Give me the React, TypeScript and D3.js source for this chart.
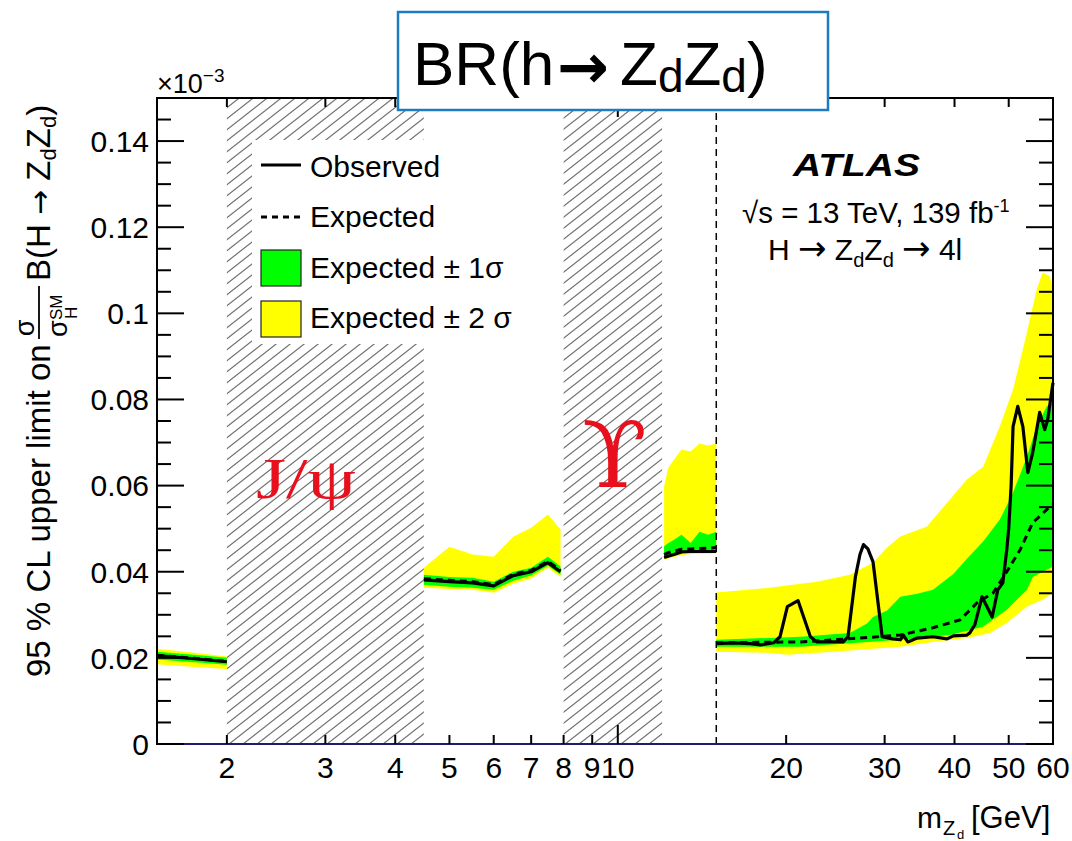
import React from "react";
import * as d3 from "d3";

// ---------------- data ----------------
// segment A : 1.5 - 2 GeV
const massA = [1.5, 1.75, 2.0];
const obsA = [0.0205, 0.0198, 0.0191];
const expA = [0.0206, 0.0199, 0.0192];
const g1HiA = [0.0214, 0.0207, 0.02];
const g1LoA = [0.0196, 0.019, 0.0184];
const g2HiA = [0.0221, 0.0212, 0.0203];
const g2LoA = [0.0185, 0.0179, 0.0174];

// segment B : 4.5 - 7.9 GeV
const massB = [4.5, 5.0, 5.5, 6.0, 6.5, 7.0, 7.5, 7.9];
const obsB = [0.0381, 0.0377, 0.0374, 0.0367, 0.0391, 0.04, 0.0421, 0.04];
const expB = [0.0384, 0.038, 0.0377, 0.037, 0.0394, 0.0403, 0.0424, 0.0403];
const g1HiB = [0.0393, 0.0388, 0.0386, 0.0377, 0.04, 0.0409, 0.0435, 0.0412];
const g1LoB = [0.037, 0.0365, 0.0363, 0.0358, 0.0379, 0.0391, 0.0414, 0.0393];
const g2HiB = [0.0409, 0.0458, 0.044, 0.0435, 0.0481, 0.0502, 0.0533, 0.0498];
const g2LoB = [0.0363, 0.036, 0.0358, 0.0351, 0.0372, 0.0384, 0.0409, 0.0388];

// segment C : 12 - 15 GeV
const massC = [12.1, 12.3, 12.6, 13.0, 13.5, 14.0, 14.5, 15.0];
const obsC = [0.0433, 0.0436, 0.044, 0.0446, 0.0447, 0.0447, 0.0447, 0.0447];
const expC = [0.044, 0.0444, 0.0448, 0.0452, 0.0453, 0.0454, 0.0455, 0.0456];
const g1HiC = [0.0459, 0.0466, 0.0474, 0.0486, 0.0467, 0.0493, 0.0486, 0.0493];
const g1LoC = [0.0432, 0.0435, 0.0438, 0.0443, 0.0445, 0.0446, 0.0446, 0.0447];
const g2HiC = [0.0598, 0.064, 0.066, 0.0684, 0.0679, 0.0698, 0.0693, 0.0698];
const g2LoC = [0.0428, 0.0431, 0.0434, 0.0439, 0.0441, 0.0442, 0.0442, 0.0443];

// segment D : 15 - 60 GeV
const massObsD = [15.0, 16.1, 17.25, 18.0, 19.0, 19.5, 20.1, 21.0, 22.1, 22.7, 24.3, 25.3, 25.8, 26.6, 27.1, 27.5, 28.0, 28.6, 29.7, 31.0, 32.0, 32.4, 33.0, 34.3, 36.6, 38.8, 39.8, 42.1, 42.6, 43.5, 44.8, 46.7, 47.8, 48.8, 49.6, 50.0, 50.5, 50.9, 51.9, 53.0, 54.1, 55.2, 56.8, 58.0, 58.7, 60.0];
const obsD = [0.0233, 0.0235, 0.0233, 0.023, 0.0235, 0.0249, 0.0319, 0.0333, 0.0249, 0.0237, 0.0237, 0.0237, 0.0249, 0.0388, 0.044, 0.0463, 0.0453, 0.0423, 0.0249, 0.0244, 0.0242, 0.0253, 0.0237, 0.0246, 0.0249, 0.0244, 0.0251, 0.0253, 0.0258, 0.0277, 0.0342, 0.0295, 0.0358, 0.0374, 0.0451, 0.05, 0.06, 0.0737, 0.0784, 0.0737, 0.063, 0.0677, 0.077, 0.073, 0.0753, 0.0839];
const massExpD = [15.0, 21.2, 27.1, 32.0, 36.6, 40.9, 43.9, 46.9, 49.6, 52.4, 55.2, 59.2, 60.0];
const expD = [0.0235, 0.0237, 0.0246, 0.0253, 0.027, 0.0288, 0.0328, 0.0351, 0.04, 0.0451, 0.0514, 0.0551, 0.0556];
const massG1HiD = [15.0, 21.2, 26.0, 27.9, 28.6, 30.3, 32.0, 34.3, 36.6, 39.8, 42.1, 45.0, 48.2, 50.9, 53.9, 56.1, 58.5, 60.0];
const g1HiD = [0.0242, 0.0249, 0.0258, 0.028, 0.0295, 0.031, 0.0342, 0.0349, 0.0358, 0.0395, 0.043, 0.047, 0.0521, 0.0584, 0.0667, 0.0737, 0.0784, 0.0793];
const massG1LoD = [15.0, 21.2, 32.0, 39.3, 45.0, 49.6, 53.9, 55.2, 60.0];
const g1LoD = [0.0226, 0.0226, 0.0242, 0.0253, 0.0272, 0.0312, 0.0358, 0.0388, 0.0412];
const massG2HiD = [15.0, 18.5, 22.7, 26.0, 28.6, 30.3, 32.0, 35.7, 38.8, 42.1, 45.0, 48.2, 50.9, 53.9, 56.1, 57.5, 59.2, 60.0];
const g2HiD = [0.0352, 0.0362, 0.0377, 0.0393, 0.0421, 0.0456, 0.0482, 0.0505, 0.056, 0.0614, 0.0644, 0.0737, 0.0823, 0.0956, 0.1056, 0.1095, 0.1086, 0.1056];
const massG2LoD = [15.0, 18.5, 20.1, 24.3, 32.0, 36.6, 42.1, 46.3, 49.6, 53.9, 57.5, 60.0];
const g2LoD = [0.0214, 0.0212, 0.0207, 0.0214, 0.0226, 0.0237, 0.0246, 0.0258, 0.0281, 0.0319, 0.0335, 0.0351];

// vetoed regions and boundary
const vetoLo = [2.0, 8.0];
const vetoHi = [4.5, 12.0];
const boundaryMass = 15.0;

// axes
const xTickValues = [2, 3, 4, 5, 6, 7, 8, 9, 10, 20, 30, 40, 50, 60];
const xMajorTicks = [10];
const yTickValues = [0, 0.02, 0.04, 0.06, 0.08, 0.1, 0.12, 0.14];
const yMinorTicks = d3.range(0, 31).map((i) => i * 0.005);

const legendLabels = ["Observed", "Expected", "Expected ± 1σ", "Expected ± 2 σ"];

const FONT = "'Liberation Sans', Arial, Helvetica, sans-serif";
const ARROW_FONT = "'DejaVu Sans', sans-serif";
const GREEN = "#00ff00";
const YELLOW = "#ffff00";

export default function App() {
  const x = d3.scaleLog().domain([1.5, 60]).range([157, 1053]);
  const y = d3.scaleLinear().domain([0, 0.15]).range([744, 98]);
  const [x0, x1] = x.range();
  const [yb, yt] = y.range();

  const line = d3
    .line<[number, number]>()
    .x((d) => x(d[0]))
    .y((d) => y(d[1]));
  const pts = (m: number[], v: number[]) =>
    m.map((mm, i) => [mm, v[i]] as [number, number]);
  const band = (mh: number[], vh: number[], ml: number[], vl: number[]) =>
    line([...pts(mh, vh), ...pts(ml, vl).reverse()]) + "Z";

  const segments = [
    { g2: band(massA, g2HiA, massA, g2LoA), g1: band(massA, g1HiA, massA, g1LoA), exp: line(pts(massA, expA)), obs: line(pts(massA, obsA)) },
    { g2: band(massB, g2HiB, massB, g2LoB), g1: band(massB, g1HiB, massB, g1LoB), exp: line(pts(massB, expB)), obs: line(pts(massB, obsB)) },
    { g2: band(massC, g2HiC, massC, g2LoC), g1: band(massC, g1HiC, massC, g1LoC), exp: line(pts(massC, expC)), obs: line(pts(massC, obsC)) },
    { g2: band(massG2HiD, g2HiD, massG2LoD, g2LoD), g1: band(massG1HiD, g1HiD, massG1LoD, g1LoD), exp: line(pts(massExpD, expD)), obs: line(pts(massObsD, obsD)) },
  ];

  const fmtY = (v: number) => String(+v.toFixed(2));

  return (
    <svg
      width={1072}
      height={841}
      style={{ position: "absolute", left: 0, top: 0, background: "#fff" }}
      fontFamily={FONT}
    >
      <defs>
        <pattern id="hatch" patternUnits="userSpaceOnUse" width={14} height={11}>
          <path d="M0,11 L14,0 M-2,1.57 L2,-1.57 M12,12.57 L16,9.43" stroke="#707070" strokeWidth={1.2} />
        </pattern>
      </defs>
      <rect x={0} y={0} width={1072} height={841} fill="#fff" />

      {/* vetoed regions */}
      {vetoLo.map((lo, i) => (
        <rect key={"veto" + i} x={x(lo)} y={yt} width={x(vetoHi[i]) - x(lo)} height={yb - yt} fill="url(#hatch)" />
      ))}

      {/* legend background */}
      <rect x={252} y={140} width={250} height={204} fill="#fff" />

      {/* bands and lines */}
      {segments.map((s, i) => (
        <g key={"seg" + i}>
          <path d={s.g2} fill={YELLOW} stroke="none" />
          <path d={s.g1} fill={GREEN} stroke="none" />
          <path d={s.exp!} fill="none" stroke="#000" strokeWidth={3} strokeDasharray="7,5" />
          <path d={s.obs!} fill="none" stroke="#000" strokeWidth={3.2} strokeLinejoin="round" />
        </g>
      ))}

      {/* boundary line */}
      <line x1={x(boundaryMass)} x2={x(boundaryMass)} y1={yb} y2={yt} stroke="#000" strokeWidth={1.5} strokeDasharray="7,5" />

      {/* frame */}
      <rect x={x0} y={yt} width={x1 - x0} height={yb - yt} fill="none" stroke="#000" strokeWidth={2} />
      <line x1={x0} x2={x1} y1={yb} y2={yb} stroke="#1c1c70" strokeWidth={2} />

      {/* y ticks */}
      {yMinorTicks.map((v, i) => {
        const major = Math.abs(v / 0.02 - Math.round(v / 0.02)) < 1e-6;
        const len = major ? 27 : 14;
        return (
          <g key={"yt" + i}>
            <line x1={x0} x2={x0 + len} y1={y(v)} y2={y(v)} stroke="#000" strokeWidth={2} />
            <line x1={x1} x2={x1 - len} y1={y(v)} y2={y(v)} stroke="#000" strokeWidth={2} />
          </g>
        );
      })}
      {yTickValues.map((v) => (
        <text key={"yl" + v} x={149} y={y(v)} dy="0.36em" textAnchor="end" fontSize={30}>
          {fmtY(v)}
        </text>
      ))}

      {/* x ticks */}
      {xTickValues.map((v) => {
        const len = xMajorTicks.includes(v) ? 19 : 9;
        return (
          <g key={"xt" + v}>
            <line x1={x(v)} x2={x(v)} y1={yb} y2={yb - len} stroke="#000" strokeWidth={2} />
            <line x1={x(v)} x2={x(v)} y1={yt} y2={yt + len} stroke="#000" strokeWidth={2} />
            <text x={x(v)} y={778} textAnchor="middle" fontSize={30}>
              {v}
            </text>
          </g>
        );
      })}

      {/* exponent */}
      <text x={157} y={93} fontSize={27}>
        ×10<tspan fontSize={19} dy={-11}>−3</tspan>
      </text>

      {/* y axis title */}
      <g transform="translate(50,677) rotate(-90)">
        <text x={0} y={0} fontSize={33}>95 % CL upper limit on</text>
        <text x={349} y={-16} fontSize={27} textAnchor="middle">σ</text>
        <line x1={338} x2={391} y1={-11} y2={-11} stroke="#000" strokeWidth={1.8} />
        <text x={340} y={17} fontSize={27}>σ</text>
        <text x={357} y={12} fontSize={17}>SM</text>
        <text x={358} y={27} fontSize={17}>H</text>
        <text x={396} y={0} fontSize={33}>
          B(H <tspan fontFamily={ARROW_FONT} fontSize={30}>→</tspan> Z<tspan fontSize={22} dy={6}>d</tspan>
          <tspan fontSize={33} dy={-6}>Z</tspan>
          <tspan fontSize={22} dy={6}>d</tspan>
          <tspan fontSize={33} dy={-6}>)</tspan>
        </text>
      </g>

      {/* x axis title */}
      <text x={917} y={828} fontSize={30}>m</text>
      <text x={943} y={835} fontSize={20}>Z</text>
      <text x={957} y={839} fontSize={13}>d</text>
      <text x={971} y={828} fontSize={31}>[GeV]</text>

      {/* legend */}
      <line x1={261} x2={301} y1={165} y2={165} stroke="#000" strokeWidth={3} />
      <line x1={261} x2={301} y1={217} y2={217} stroke="#000" strokeWidth={3} strokeDasharray="6,5" />
      <rect x={261} y={250} width={40} height={36} fill={GREEN} stroke="#222" strokeWidth={1.2} />
      <rect x={261} y={301} width={40} height={36} fill={YELLOW} stroke="#222" strokeWidth={1.2} />
      {legendLabels.map((l, i) => (
        <text key={l} x={310} y={[177, 227, 278, 328][i]} fontSize={30}>
          {l}
        </text>
      ))}

      {/* ATLAS label */}
      <text x={793} y={176} fontSize={31} fontWeight="bold" fontStyle="italic" textLength={127} lengthAdjust="spacingAndGlyphs">
        ATLAS
      </text>
      <text x={742} y={223} fontSize={29.5}>
        √s = 13 TeV, 139 fb<tspan fontSize={18} dy={-11}>-1</tspan>
      </text>
      <text x={768} y={260} fontSize={30}>
        H <tspan fontFamily={ARROW_FONT} fontSize={34}>→</tspan> Z<tspan fontSize={20} dy={7}>d</tspan>
        <tspan fontSize={30} dy={-7}>Z</tspan>
        <tspan fontSize={20} dy={7}>d</tspan>
        <tspan fontSize={30} dy={-7}> </tspan>
        <tspan fontFamily={ARROW_FONT} fontSize={34}>→</tspan>
        <tspan fontSize={30}> 4l</tspan>
      </text>

      {/* resonance labels */}
      <text x={256} y={498} fontSize={56} fill="#e8101c" fontFamily="'Liberation Serif', 'Times New Roman', serif" textLength={100} lengthAdjust="spacingAndGlyphs">
        J/ψ
      </text>
      <text x={582} y={487} fontSize={92} fill="#e8101c" fontFamily="'DejaVu Serif', serif" textLength={65} lengthAdjust="spacingAndGlyphs">
        ϒ
      </text>

      {/* title box */}
      <rect x={398} y={12} width={430} height={98} fill="#fff" stroke="#1f7bc0" strokeWidth={2.5} />
      <text x={413} y={85} fontSize={62}>BR(h</text>
      <text x={557} y={88} fontSize={62} fontWeight="bold" fontFamily={ARROW_FONT}>→</text>
      <text x={620} y={85} fontSize={62}>
        Z<tspan fontSize={46} dy={7}>d</tspan>
        <tspan fontSize={62} dy={-7}>Z</tspan>
        <tspan fontSize={46} dy={7}>d</tspan>
        <tspan fontSize={62} dy={-7}>)</tspan>
      </text>
    </svg>
  );
}
